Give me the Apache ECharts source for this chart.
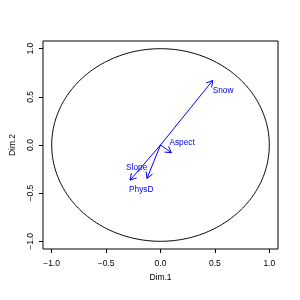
<!DOCTYPE html>
<html>
<head>
<meta charset="utf-8">
<script src="https://cdn.jsdelivr.net/npm/echarts@6/dist/echarts.min.js"></script>
<style>html,body{margin:0;padding:0;background:#fff}#c{width:300px;height:300px}</style>
</head>
<body>
<div id="c"></div>
<script>
// Data
const variables = ['Snow', 'Aspect', 'Slope', 'PhysD'];
const dim1 = [0.48, 0.10, -0.28, -0.124];
const dim2 = [0.67, -0.08, -0.365, -0.347];
const tickValues = [-1.0, -0.5, 0.0, 0.5, 1.0];
const axisMin = -1.08, axisMax = 1.08;

// label pixel offsets (style) relative to arrow tip: [dx, dy], left-aligned, middle baseline
const labelOffset = {Snow: [0, 10], Aspect: [-2, -10], Slope: [-4, -12], PhysD: [-18, 11]};

const chart = echarts.init(document.getElementById('c'), null, {renderer: 'canvas'});
const font = 'Liberation Sans, Arial, Helvetica, sans-serif';
const blue = '#0000ff';

function fmt(v){ return v.toFixed(1).replace('-', '\u2212'); }

function axis(name, gap, rotate, margin){
  return {
    type: 'value', min: axisMin, max: axisMax, name: name,
    nameLocation: 'middle', nameGap: gap,
    nameTextStyle: {color: '#000', fontFamily: font, fontSize: 8.5},
    axisLine: {show: false, onZero: false},
    splitLine: {show: false},
    axisTick: {show: true, inside: false, length: 4, customValues: tickValues, lineStyle: {color: '#000', width: 1}},
    axisLabel: {show: true, customValues: tickValues, rotate: rotate, margin: margin,
      color: '#000', fontFamily: font, fontSize: 8.5, formatter: v => fmt(v)}
  };
}

const arrowData = variables.map((n, i) => [dim1[i], dim2[i], n]);

chart.setOption({
  animation: false,
  backgroundColor: '#fff',
  grid: {left: 41, right: 22, top: 41, bottom: 51, show: true, borderColor: '#000', borderWidth: 1, backgroundColor: 'transparent'},
  xAxis: axis('Dim.1', 24, 0, 10),
  yAxis: axis('Dim.2', 26, 90, 8),
  series: [
    {
      type: 'custom', coordinateSystem: 'cartesian2d', silent: true,
      data: [[0, 0]],
      renderItem: function(params, api){
        const pts = [];
        for (let k = 0; k <= 360; k++) {
          const a = k * Math.PI / 180;
          pts.push(api.coord([Math.cos(a), Math.sin(a)]));
        }
        return {type: 'polyline', shape: {points: pts}, style: {stroke: '#000', fill: null, lineWidth: 1}};
      }
    },
    {
      type: 'custom', coordinateSystem: 'cartesian2d', silent: true,
      data: arrowData,
      renderItem: function(params, api){
        const o = api.coord([0, 0]);
        const t = api.coord([api.value(0), api.value(1)]);
        const ang = Math.atan2(t[1] - o[1], t[0] - o[0]);
        const L = 7, sp = Math.PI / 6;
        const h1 = [t[0] - L * Math.cos(ang - sp), t[1] - L * Math.sin(ang - sp)];
        const h2 = [t[0] - L * Math.cos(ang + sp), t[1] - L * Math.sin(ang + sp)];
        const name = arrowData[params.dataIndex][2];
        const off = labelOffset[name];
        const st = {stroke: blue, lineWidth: 1, fill: null};
        return {type: 'group', children: [
          {type: 'line', shape: {x1: o[0], y1: o[1], x2: t[0], y2: t[1]}, style: st},
          {type: 'polyline', shape: {points: [h1, t, h2]}, style: st},
          {type: 'text', style: {text: name, x: t[0] + off[0], y: t[1] + off[1], fill: blue,
            font: '8.3px ' + font, textAlign: 'left', textVerticalAlign: 'middle'}}
        ]};
      }
    }
  ]
});
</script>
</body>
</html>
